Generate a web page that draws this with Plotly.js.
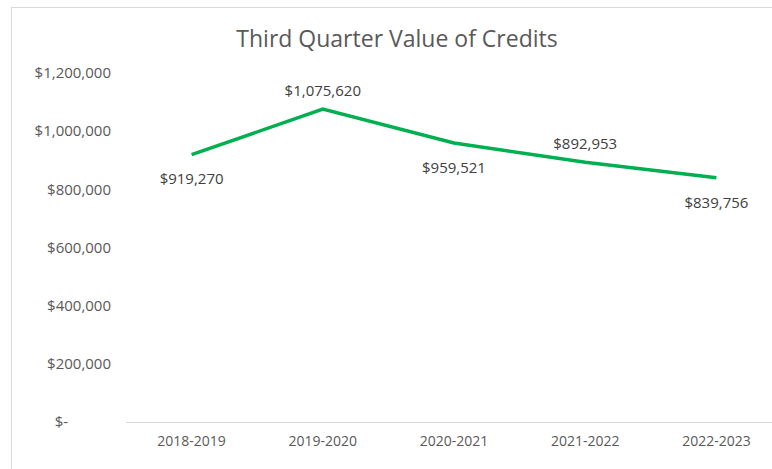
<!DOCTYPE html>
<html>
<head>
<meta charset="utf-8">
<script src="https://cdn.plot.ly/plotly-3.0.1.min.js"></script>
<style>
html,body{margin:0;padding:0;background:#fff;overflow:hidden;width:772px;height:469px;}
#chart{position:absolute;left:11px;top:7px;width:770px;height:470px;border-left:1px solid #d9d9d9;border-top:1px solid #d9d9d9;}
</style>
</head>
<body>
<div id="chart"></div>
<script>
const categories = ['2018-2019','2019-2020','2020-2021','2021-2022','2022-2023'];
const values = [919270, 1075620, 959521, 892953, 839756];
const labelText = ['$919,270','$1,075,620','$959,521','$892,953','$839,756'];
const labelPos = ['bottom center','top center','bottom center','top center','bottom center'];
const yTickVals = [0, 200000, 400000, 600000, 800000, 1000000, 1200000];
const yTickText = ['$-\u2007\u2007\u2007\u2007\u2007','$200,000','$400,000','$600,000','$800,000','$1,000,000','$1,200,000'];

const FONT = '"Open Sans", sans-serif';
const labelGap = labelPos.map(p => p.startsWith('top') ? 14 : 28);

Plotly.newPlot('chart', [{
  x: categories,
  y: values,
  type: 'scatter',
  mode: 'lines+markers+text',
  line: {color: '#00B050', width: 3.5},
  marker: {size: labelGap, color: 'rgba(0,0,0,0)', line: {width: 0, color: 'rgba(0,0,0,0)'}},
  text: labelText,
  textposition: labelPos,
  textfont: {family: FONT, size: 15, color: '#404040'},
  cliponaxis: false,
  hoverinfo: 'skip'
}], {
  width: 770, height: 470,
  margin: {l: 114, r: 0, t: 65, b: 56},
  paper_bgcolor: '#fff', plot_bgcolor: '#fff',
  showlegend: false,
  title: {text: 'Third Quarter Value of Credits', x: 0.5, xanchor: 'center', y: 0.935, yanchor: 'middle',
          font: {family: FONT, size: 23, color: '#595959'}},
  xaxis: {
    type: 'category', range: [-0.5, 4.5],
    showgrid: false, zeroline: false, showline: true, linecolor: '#d9d9d9', linewidth: 1,
    ticks: '', ticklabelstandoff: 6,
    tickfont: {family: FONT, size: 14, color: '#595959'}
  },
  yaxis: {
    range: [0, 1200000], tickvals: yTickVals, ticktext: yTickText,
    showgrid: false, zeroline: false, showline: false, ticks: '',
    ticklabelstandoff: 14,
    tickfont: {family: FONT, size: 15, color: '#595959'}
  }
}, {displayModeBar: false, staticPlot: true});
</script>
</body>
</html>
